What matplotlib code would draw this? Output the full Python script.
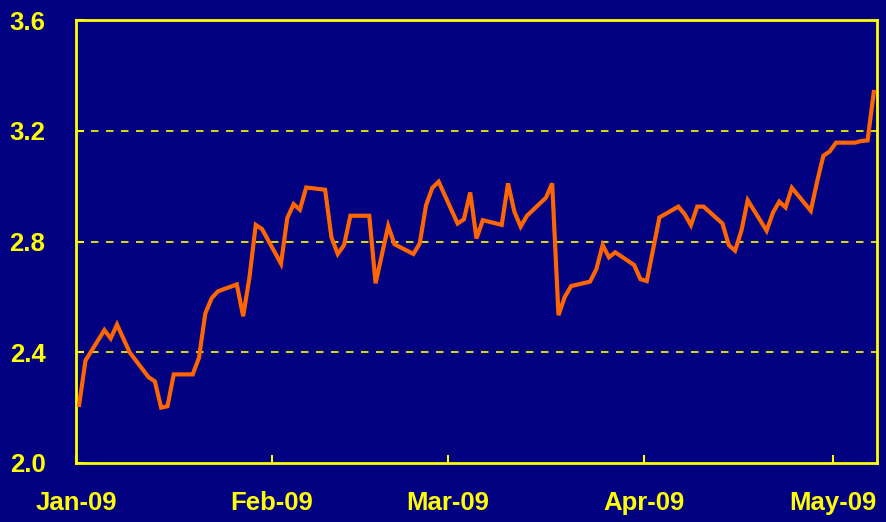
import numpy as np
import pandas as pd
import matplotlib
matplotlib.use('Agg')
import matplotlib.pyplot as plt
import matplotlib.dates as mdates

#Daily values (trading days, 2009)
dates = ['2009-01-01', '2009-01-02', '2009-01-05', '2009-01-06', '2009-01-07', '2009-01-09',
         '2009-01-12', '2009-01-13', '2009-01-14', '2009-01-15', '2009-01-16',
         '2009-01-19', '2009-01-20', '2009-01-21', '2009-01-22', '2009-01-23',
         '2009-01-26', '2009-01-27', '2009-01-28', '2009-01-29', '2009-01-30',
         '2009-02-02', '2009-02-03', '2009-02-04', '2009-02-05', '2009-02-06',
         '2009-02-09', '2009-02-10', '2009-02-11', '2009-02-12', '2009-02-13',
         '2009-02-16', '2009-02-17', '2009-02-19', '2009-02-20',
         '2009-02-23', '2009-02-24', '2009-02-25', '2009-02-26', '2009-02-27',
         '2009-03-02', '2009-03-03', '2009-03-04', '2009-03-05', '2009-03-06',
         '2009-03-09', '2009-03-10', '2009-03-11', '2009-03-12', '2009-03-13',
         '2009-03-16', '2009-03-17', '2009-03-18', '2009-03-19', '2009-03-20',
         '2009-03-23', '2009-03-24', '2009-03-25', '2009-03-26', '2009-03-27',
         '2009-03-30', '2009-03-31', '2009-04-01', '2009-04-03',
         '2009-04-06', '2009-04-07', '2009-04-08', '2009-04-09', '2009-04-10',
         '2009-04-13', '2009-04-14', '2009-04-15', '2009-04-16', '2009-04-17',
         '2009-04-20', '2009-04-21', '2009-04-22', '2009-04-23', '2009-04-24',
         '2009-04-27', '2009-04-28', '2009-04-29', '2009-04-30', '2009-05-01',
         '2009-05-04', '2009-05-05', '2009-05-06', '2009-05-07']
values = [2.21, 2.37, 2.48, 2.45, 2.50, 2.40,
          2.31, 2.295, 2.20, 2.205, 2.32,
          2.32, 2.38, 2.54, 2.595, 2.62,
          2.645, 2.53, 2.67, 2.86, 2.845,
          2.72, 2.885, 2.935, 2.915, 2.995,
          2.987, 2.815, 2.755, 2.787, 2.893,
          2.893, 2.649, 2.856, 2.79,
          2.755, 2.793, 2.931, 2.994, 3.016,
          2.865, 2.88, 2.977, 2.811, 2.877,
          2.86, 3.01, 2.908, 2.854, 2.893,
          2.958, 3.01, 2.534, 2.60, 2.639,
          2.655, 2.70, 2.787, 2.743, 2.761,
          2.715, 2.664, 2.657, 2.887,
          2.926, 2.899, 2.859, 2.926, 2.926,
          2.865, 2.787, 2.767, 2.839, 2.949,
          2.839, 2.904, 2.944, 2.923, 2.994,
          2.911, 3.016, 3.11, 3.125, 3.157,
          3.157, 3.163, 3.165, 3.34]

y_ticks = [2.0, 2.4, 2.8, 3.2, 3.6]
grid_levels = [2.4, 2.8, 3.2]
month_ticks = ['2009-01-01', '2009-02-01', '2009-03-01', '2009-04-01', '2009-05-01']
x_start, x_end = '2009-01-01', '2009-05-08'

navy = '#000080'
yellow = '#FFFF00'
orange = '#FF6600'

plt.rcParams['font.family'] = ['Liberation Sans', 'DejaVu Sans']

fig = plt.figure(figsize=(8.87, 5.22), dpi=100, facecolor=navy)
ax = fig.add_axes([76/887, 1 - 463/522, (877 - 76)/887, (463 - 20)/522])
ax.set_facecolor(navy)

#Excel style date axis: each point sits in the middle of its day
x = pd.to_datetime(dates) + pd.Timedelta(hours=12)
for lev in grid_levels:
    ax.axhline(lev, color=yellow, linewidth=1.2, dashes=(4.5, 4.5), zorder=1)
ax.plot(x, values, color=orange, linewidth=3.0, solid_joinstyle='miter', zorder=3)

ax.set_xlim(pd.Timestamp(x_start), pd.Timestamp(x_end))
ax.set_ylim(2.0, 3.6)
ax.set_yticks(y_ticks)
ax.set_yticklabels(['%.1f' % t for t in y_ticks])
ax.set_xticks(pd.to_datetime(month_ticks))
ax.xaxis.set_major_formatter(mdates.DateFormatter('%b-%y'))

for sp in ax.spines.values():
    sp.set_color(yellow)
    sp.set_linewidth(2.0)
ax.tick_params(axis='both', direction='in', length=6, width=1.5, color=yellow,
               labelcolor=yellow, labelsize=18.5)
ax.tick_params(axis='y', pad=22)
ax.tick_params(axis='x', pad=20)
for lab in ax.get_xticklabels() + ax.get_yticklabels():
    lab.set_fontweight('bold')

fig.savefig('out.png', dpi=100, facecolor=navy)
